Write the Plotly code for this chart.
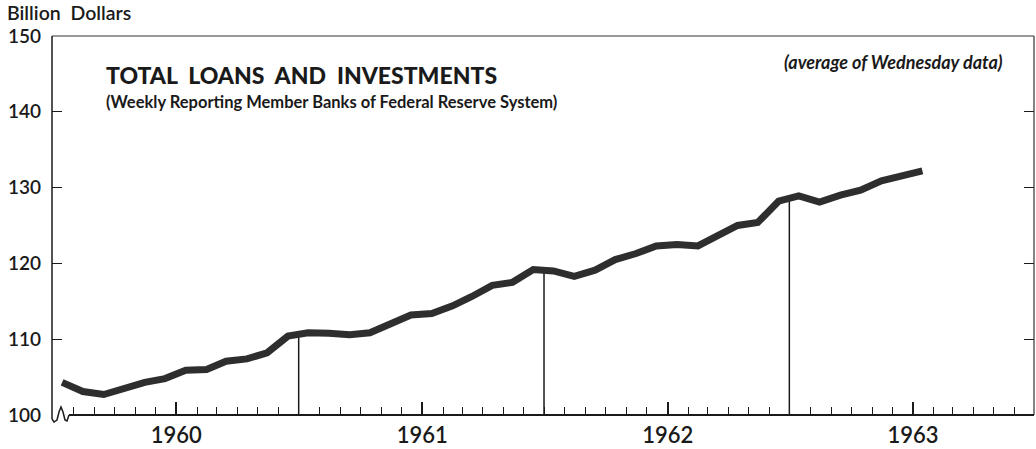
import numpy as np
import pandas as pd
import plotly.graph_objects as go

# ---- data (monthly averages, billion dollars) ----
start_month = "1959-07-01"
values = [104.3, 103.1, 102.7, 103.6, 104.3, 104.8,
          105.9, 106.0, 107.1, 107.4, 108.2, 110.4,
          110.85, 110.8, 110.6, 110.85, 112.0, 113.2,
          113.4, 114.4, 115.6, 117.1, 117.5, 119.2,
          119.0, 118.3, 119.1, 120.5, 121.3, 122.3,
          122.5, 122.3, 123.6, 125.0, 125.4, 128.2,
          128.9, 128.1, 129.0, 129.65, 130.9, 131.5, 132.2]
months = pd.date_range(start_month, periods=len(values), freq="MS") + pd.Timedelta(days=14)
year_ticks = ["1960-01-01", "1961-01-01", "1962-01-01", "1963-01-01"]
year_labels = ["1960", "1961", "1962", "1963"]
mid_year_marks = ["1960-07-01", "1961-07-01", "1962-07-01"]
y_ticks = [100, 110, 120, 130, 140, 150]
inner_y_ticks = [110, 120, 130, 140]

FONT = "Lato"
INK = "#1a1a1a"

# plot-area geometry in pixels (for decorative frame/annotations)
L, R, T, B = 52, 1034, 36, 415
W, H = 1036, 449


def px(x):
    return (x - L) / (R - L)


def py(y):
    return (B - y) / (B - T)


fig = go.Figure()

# vertical mid-year lines up to the curve
t_num = months.values.astype("datetime64[D]").astype(float)
for d in mid_year_marks:
    dn = np.datetime64(d, "D").astype(float)
    top = float(np.interp(dn, t_num, values))
    fig.add_trace(go.Scatter(x=[d, d], y=[100, top], mode="lines",
                             line=dict(color=INK, width=1.5),
                             showlegend=False, hoverinfo="skip"))

fig.add_trace(go.Scatter(x=months, y=values, mode="lines",
                         line=dict(color="#2e2e2e", width=7),
                         showlegend=False))

# helper trace for the tick-only axis
fig.add_trace(go.Scatter(x=[months[0]], y=[None], yaxis="y2",
                         mode="markers", showlegend=False, hoverinfo="skip"))

shapes = []
line_style = dict(color=INK, width=1.5)
# frame
shapes.append(dict(type="line", xref="paper", yref="paper", x0=0, x1=1, y0=1, y1=1,
                   line=dict(color="#333", width=1.2)))
shapes.append(dict(type="line", xref="paper", yref="paper", x0=1, x1=1, y0=0, y1=1,
                   line=dict(color="#333", width=1.2)))
shapes.append(dict(type="line", xref="paper", yref="paper", x0=0, x1=0, y0=py(419), y1=1,
                   line=line_style))
shapes.append(dict(type="line", xref="paper", yref="paper", x0=px(69), x1=1, y0=0, y1=0,
                   line=dict(color=INK, width=2)))
# axis-break squiggle
pts = [(52, 419), (54, 422), (57, 420), (59, 412), (61, 407), (63, 412),
       (65, 420), (67, 421), (69, 415)]
path = "M " + " L ".join(f"{px(x):.5f},{py(y):.5f}" for x, y in pts)
shapes.append(dict(type="path", xref="paper", yref="paper", path=path,
                   line=dict(color=INK, width=1.5)))

annotations = [
    dict(text="Billion\u00a0 Dollars", x=px(5), y=py(13), xref="paper", yref="paper",
         xanchor="left", yanchor="middle", showarrow=False,
         font=dict(family=FONT, size=19.5, color=INK, weight=600)),
    dict(text="TOTAL\u00a0 LOANS\u00a0 AND\u00a0 INVESTMENTS", x=px(104), y=py(75),
         xref="paper", yref="paper", xanchor="left", yanchor="middle", showarrow=False,
         font=dict(family=FONT, size=23, color=INK, weight=900)),
    dict(text="(Weekly Reporting Member Banks of Federal Reserve System)", x=px(104), y=py(102),
         xref="paper", yref="paper", xanchor="left", yanchor="middle", showarrow=False,
         font=dict(family=FONT, size=16.5, color=INK, weight=700)),
    dict(text="<i>(average of Wednesday data)</i>", x=px(1005), y=py(62),
         xref="paper", yref="paper", xanchor="right", yanchor="middle", showarrow=False,
         font=dict(family=FONT, size=18, color=INK, weight=700)),
]

fig.update_layout(
    width=W, height=H,
    margin=dict(l=L, r=W - R, t=T, b=H - B, autoexpand=False),
    paper_bgcolor="white", plot_bgcolor="white",
    shapes=shapes, annotations=annotations,
    xaxis=dict(type="date", range=["1959-06-30", "1963-06-30"], automargin=False,
               tickmode="array", tickvals=year_ticks, ticktext=year_labels,
               ticks="inside", ticklen=13, tickwidth=1.6, tickcolor=INK,
               minor=dict(tickmode="linear", tick0="1959-07-01", dtick="M1",
                          ticks="inside", ticklen=8, tickwidth=1.4, tickcolor=INK,
                          showgrid=False),
               showgrid=False, zeroline=False, showline=False,
               ticklabelstandoff=5,
               tickfont=dict(family=FONT, size=22, color=INK, weight=600)),
    yaxis=dict(range=[100, 150], tickmode="array", tickvals=y_ticks, automargin=False,
               ticks="", showgrid=False, zeroline=False, showline=False,
               ticklabelstandoff=10,
               tickfont=dict(family=FONT, size=19, color=INK, weight=600)),
    yaxis2=dict(range=[100, 150], overlaying="y", side="left", tickmode="array",
                automargin=False,
                tickvals=inner_y_ticks, ticks="inside", ticklen=10, tickwidth=1.4,
                tickcolor=INK, mirror="ticks", showticklabels=False,
                showgrid=False, zeroline=False, showline=False),
)

fig.write_html(
    "out.html",
    config={"displayModeBar": False},
    post_script="document.body.style.margin='0';document.body.style.overflow='hidden';",
)
